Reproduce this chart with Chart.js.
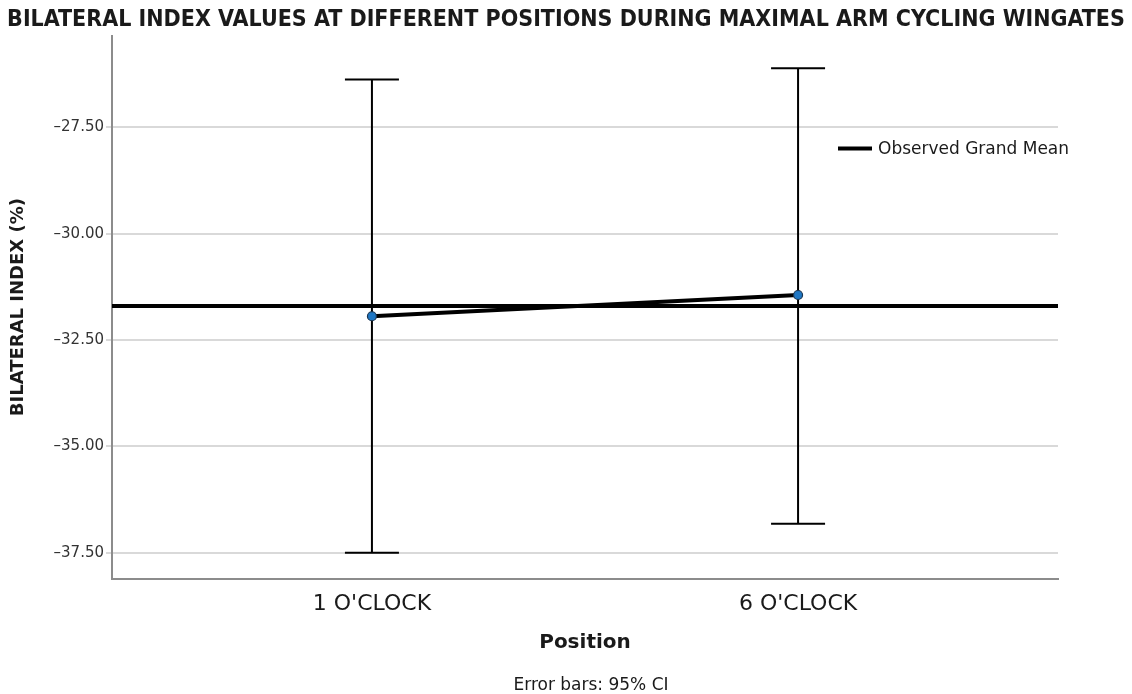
<!DOCTYPE html>
<html>
<head>
<meta charset="utf-8">
<script src="https://cdn.jsdelivr.net/npm/chart.js@4.4.1/dist/chart.umd.min.js"></script>
<style>
  html, body { margin: 0; padding: 0; background: #fff; }
  #wrap { width: 1132px; height: 694px; position: relative; }
</style>
</head>
<body>
<div id="wrap"><canvas id="chart"></canvas></div>
<script>
// Bilateral index by crank position, means with 95% CI
const positions = ["1 O'CLOCK", "6 O'CLOCK"];
const means = [-31.94, -31.44];
const ciLower = [-37.50, -36.82];
const ciUpper = [-26.37, -26.11];
const grandMean = -31.70;
const yTicks = [-37.5, -35.0, -32.5, -30.0, -27.5];

const FONT = "'DejaVu Sans', sans-serif";

// error bars and the grand mean reference line
const errorBars = {
  id: 'errorBars',
  beforeDatasetsDraw(chart) {
    const { ctx, chartArea, scales: { x, y } } = chart;
    ctx.save();
    ctx.strokeStyle = '#000';
    ctx.lineWidth = 2;
    positions.forEach((p, i) => {
      const px = x.getPixelForValue(i);
      const top = y.getPixelForValue(ciUpper[i]);
      const bot = y.getPixelForValue(ciLower[i]);
      ctx.beginPath();
      ctx.moveTo(px, top); ctx.lineTo(px, bot);
      ctx.moveTo(px - 27, top); ctx.lineTo(px + 27, top);
      ctx.moveTo(px - 27, bot); ctx.lineTo(px + 27, bot);
      ctx.stroke();
    });
    const gy = y.getPixelForValue(grandMean);
    ctx.lineWidth = 4;
    ctx.beginPath();
    ctx.moveTo(chartArea.left, gy);
    ctx.lineTo(chartArea.right, gy);
    ctx.stroke();
    ctx.restore();
  },
  afterDraw(chart) {
    const { ctx, chartArea } = chart;
    const lx = chartArea.right - 220, ly = chartArea.top + 113;
    ctx.save();
    ctx.strokeStyle = '#000';
    ctx.lineWidth = 4;
    ctx.beginPath();
    ctx.moveTo(lx, ly); ctx.lineTo(lx + 34, ly);
    ctx.stroke();
    ctx.fillStyle = '#1a1a1a';
    ctx.font = '17px ' + FONT;
    ctx.textBaseline = 'middle';
    ctx.fillText('Observed Grand Mean', lx + 40, ly + 1);
    // footnote under the axis title
    ctx.textAlign = 'center';
    ctx.fillText('Error bars: 95% CI', (chartArea.left + chartArea.right) / 2 + 6, chart.height - 8);
    ctx.restore();
  }
};

new Chart(document.getElementById('chart'), {
  type: 'line',
  data: {
    datasets: [{
      data: means.map((m, i) => ({ x: i, y: m })),
      borderColor: '#000',
      borderWidth: 4,
      pointRadius: 4.5,
      pointBackgroundColor: '#1f77c4',
      pointBorderColor: '#1b3550',
      pointBorderWidth: 1.2,
      tension: 0
    }]
  },
  options: {
    responsive: true,
    maintainAspectRatio: false,
    animation: false,
    layout: { padding: { left: 0, right: 0, top: 0, bottom: 21 } },
    plugins: {
      legend: { display: false },
      tooltip: { enabled: false },
      title: {
        display: true,
        text: 'BILATERAL INDEX VALUES AT DIFFERENT POSITIONS DURING MAXIMAL ARM CYCLING WINGATES',
        color: '#1a1a1a',
        font: { family: "'DejaVu Sans Condensed', sans-serif", size: 23, weight: 'bold', lineHeight: 1.2 },
        padding: { top: 6, bottom: 2 }
      }
    },
    scales: {
      x: {
        type: 'linear',
        min: -0.61,
        max: 1.61,
        afterBuildTicks: s => { s.ticks = positions.map((p, i) => ({ value: i })); },
        ticks: {
          callback: v => positions[v],
          color: '#1a1a1a',
          font: { family: FONT, size: 22 },
          padding: 12,
          maxRotation: 0
        },
        grid: { display: false, drawTicks: false },
        border: { display: true, color: '#8c8c8c', width: 2 },
        title: {
          display: true,
          text: 'Position',
          color: '#1a1a1a',
          font: { family: FONT, size: 20, weight: 'bold', lineHeight: 1.2 },
          padding: { top: 2, bottom: 18 }
        }
      },
      y: {
        min: -38.11,
        max: -25.34,
        afterBuildTicks: s => { s.ticks = yTicks.map(v => ({ value: v })); },
        ticks: {
          callback: v => (v < 0 ? '\u2013' : '') + Math.abs(v).toFixed(2),
          color: '#333',
          font: { family: FONT, size: 15 },
          padding: 2
        },
        grid: { color: '#d9d9d9', lineWidth: 2, tickLength: 6, drawTicks: true },
        border: { display: true, color: '#8c8c8c', width: 2 },
        title: {
          display: true,
          text: 'BILATERAL INDEX (%)',
          color: '#1a1a1a',
          font: { family: FONT, size: 18, weight: 'bold', lineHeight: 1.2 },
          padding: { top: 8, bottom: 22 }
        },
        afterFit: s => { s.width = 112; }
      },
      // empty right-hand margin beside the plot
      yRight: {
        position: 'right',
        display: true,
        ticks: { display: false },
        grid: { display: false, drawTicks: false },
        border: { display: false },
        afterFit: s => { s.width = 74; }
      }
    }
  },
  plugins: [errorBars]
});
</script>
</body>
</html>
